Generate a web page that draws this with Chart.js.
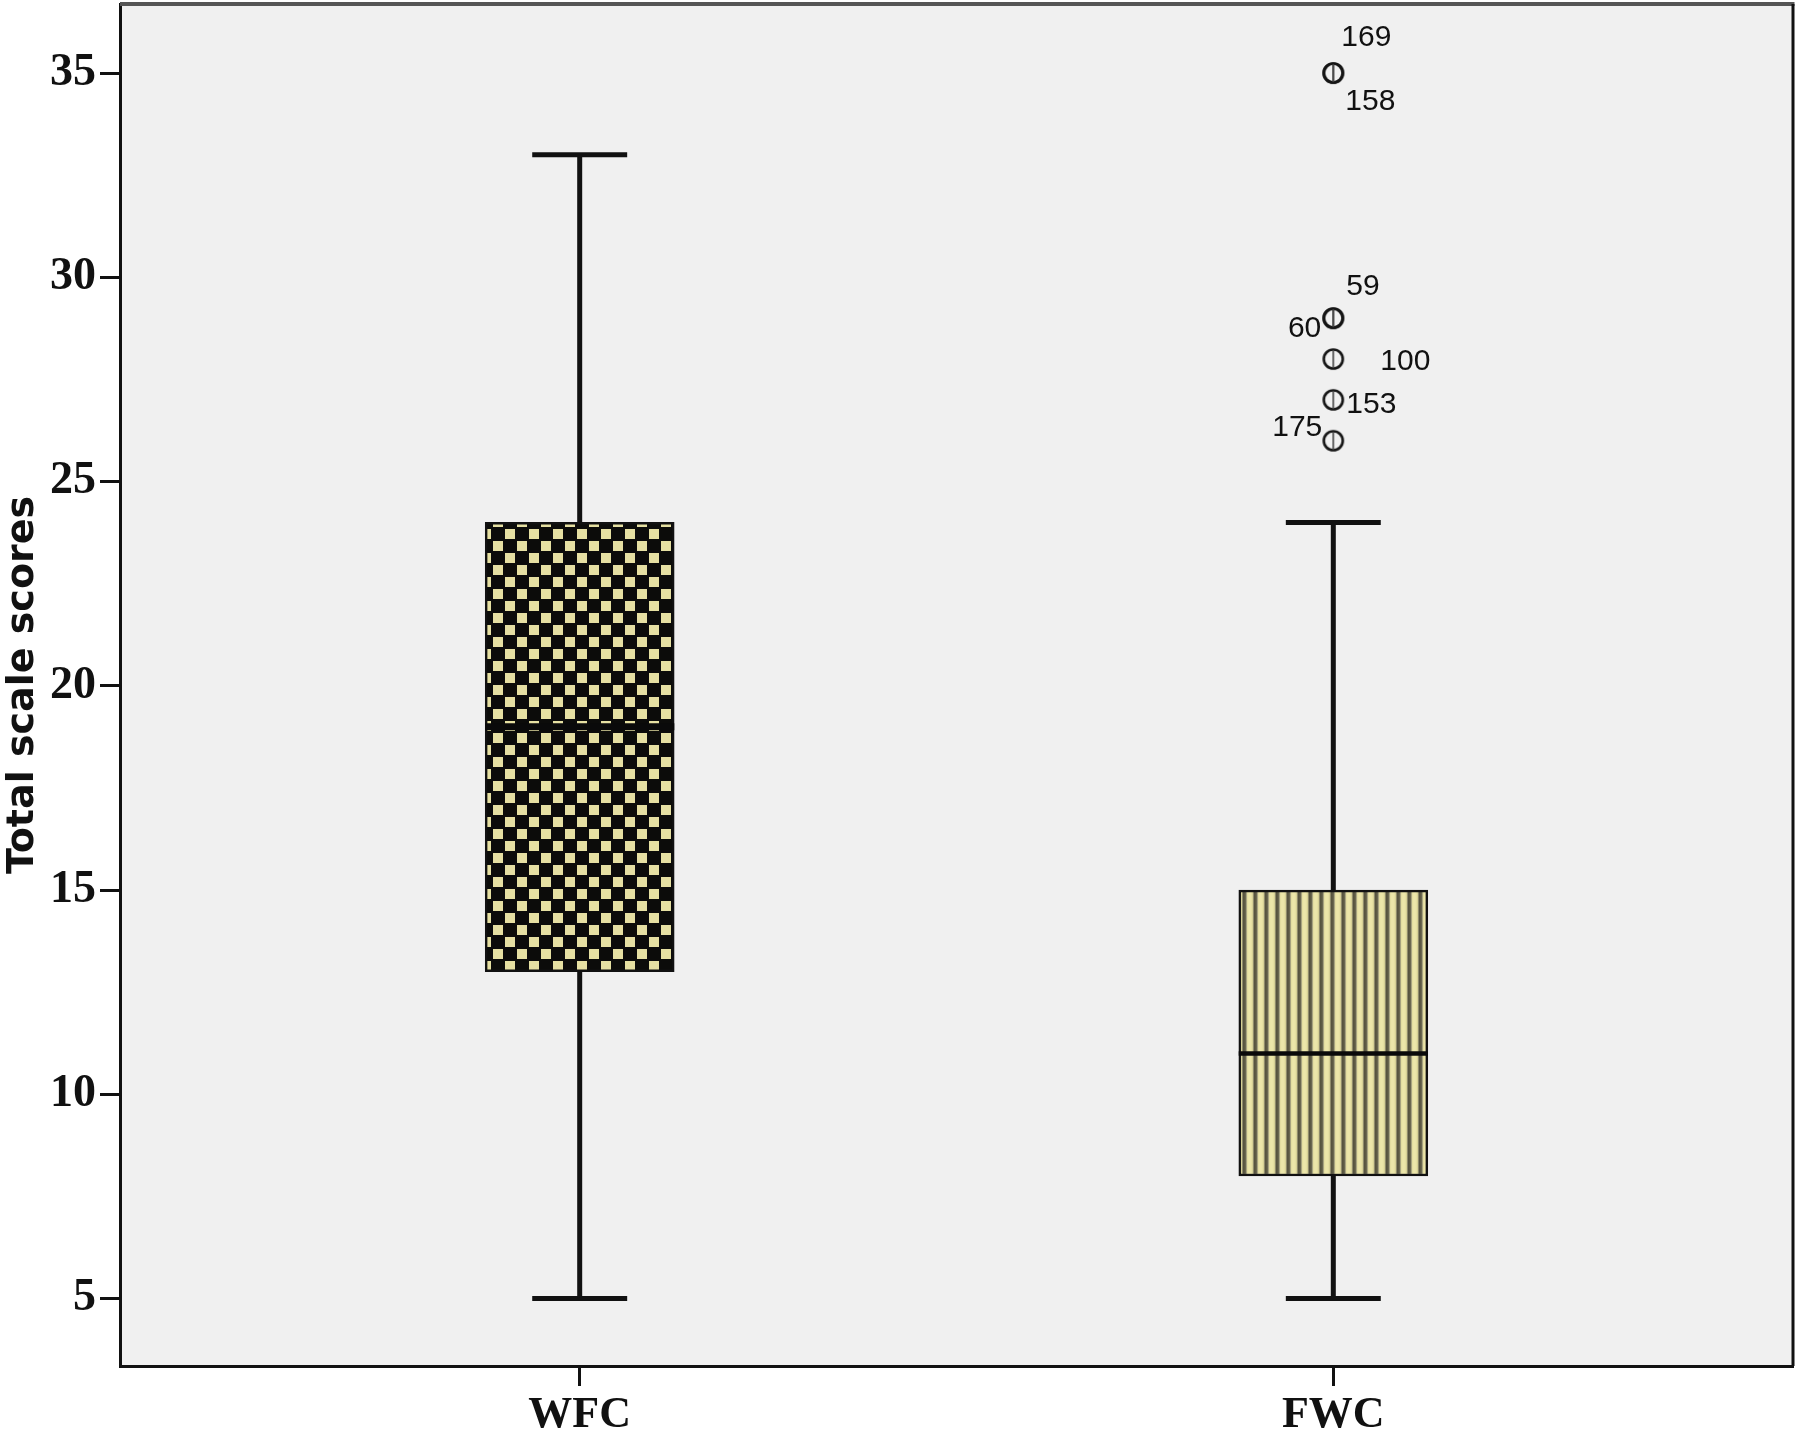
<!DOCTYPE html>
<html><head><meta charset="utf-8">
<script src="https://cdn.jsdelivr.net/npm/chart.js@4"></script>
<style>html,body{margin:0;padding:0;background:#fff}#wrap{width:1800px;height:1435px}</style>
</head><body><div id="wrap"><canvas id="c" width="1800" height="1435"></canvas></div>
<script>
// ---- data ----
const CATEGORIES = ['WFC', 'FWC'];
const MINS = [5, 5];
const Q1S = [13, 8];
const MEDIANS = [19, 11];
const Q3S = [24, 15];
const MAXS = [33, 24];
const OUTLIER_CATEGORY = [1, 1, 1, 1, 1, 1, 1]; // index into CATEGORIES
const OUTLIER_VALUES = [35, 35, 29, 29, 28, 27, 26];
const OUTLIER_IDS = ['169', '158', '59', '60', '100', '153', '175'];
const Y_TICKS = [5, 10, 15, 20, 25, 30, 35];

// ---- layout / style (not data) ----
const LABEL_DX = [8, 12, 13, -12, 47, 13, -11];
const LABEL_DY = [-35, 29, -31, 11, 3, 5, -13];
const LABEL_ALIGN = ['left', 'left', 'left', 'right', 'left', 'left', 'right'];
const BOX_PX = 189;
const BOX_HALF = 0.1255;
const CAP_HALF = 0.063;
const MEDIAN_WIDTHS = [7, 4.5];

function makeChecker() {
  const c = document.createElement('canvas'); c.width = 24; c.height = 24;
  const g = c.getContext('2d');
  g.fillStyle = '#0c0c0a'; g.fillRect(0, 0, 24, 24);
  g.fillStyle = '#e6e0a2';
  g.fillRect(1, 1, 10, 10); g.fillRect(13, 13, 10, 10);
  return g.createPattern(c, 'repeat');
}
function makeStripes() {
  const c = document.createElement('canvas'); c.width = 11; c.height = 4;
  const g = c.getContext('2d');
  const cols = ['#57543f', '#5c5944', '#6a6750', '#a7a37f', '#e3dda0', '#ebe5a8', '#ece6aa', '#ebe5a8', '#e6e0a3', '#d6d095', '#8f8b6b'];
  cols.forEach((col, i) => { g.fillStyle = col; g.fillRect(i, 0, 1, 4); });
  return g.createPattern(c, 'repeat');
}
function makeOutlierMark() {
  const c = document.createElement('canvas'); c.width = 28; c.height = 28;
  const g = c.getContext('2d');
  g.strokeStyle = '#151515'; g.lineWidth = 2.6;
  g.beginPath(); g.arc(14, 14, 9.5, 0, Math.PI * 2); g.stroke();
  g.lineWidth = 1.6; g.strokeStyle = '#444';
  g.beginPath(); g.moveTo(14, 5); g.lineTo(14, 23); g.stroke();
  return c;
}

const checker = makeChecker();
const stripes = makeStripes();
const FILLS = [checker, stripes];

const whiskerData = [];
const capData = [];
const medianData = [];
CATEGORIES.forEach((c, i) => {
  const x = i + 1;
  whiskerData.push({x, y: MAXS[i]}, {x, y: Q3S[i]}, {x, y: null});
  whiskerData.push({x, y: Q1S[i]}, {x, y: MINS[i]}, {x, y: null});
  capData.push({x: x - CAP_HALF, y: MAXS[i]}, {x: x + CAP_HALF, y: MAXS[i]}, {x, y: null});
  capData.push({x: x - CAP_HALF, y: MINS[i]}, {x: x + CAP_HALF, y: MINS[i]}, {x, y: null});
  medianData.push({x: x - BOX_HALF, y: MEDIANS[i]}, {x: x + BOX_HALF, y: MEDIANS[i]}, {x, y: null});
});

const bgPlugin = {
  id: 'bg',
  beforeDraw(chart) {
    const {ctx, chartArea: a} = chart;
    ctx.save();
    ctx.fillStyle = '#ffffff'; ctx.fillRect(0, 0, chart.width, chart.height);
    ctx.fillStyle = '#f0f0f0'; ctx.fillRect(a.left, a.top, a.right - a.left, a.bottom - a.top);
    ctx.restore();
  },
  afterDatasetsDraw(chart) {
    const {ctx, chartArea: a} = chart;
    ctx.save();
    ctx.strokeStyle = '#555'; ctx.lineWidth = 4;
    ctx.beginPath(); ctx.moveTo(a.left, a.top); ctx.lineTo(a.right + 1.5, a.top); ctx.stroke();
    ctx.strokeStyle = '#111'; ctx.lineWidth = 3;
    ctx.beginPath(); ctx.moveTo(a.right, a.top); ctx.lineTo(a.right, a.bottom); ctx.stroke();
    // outlier labels
    const meta = chart.getDatasetMeta(4);
    ctx.font = '30px "Liberation Sans", Arial, sans-serif';
    ctx.fillStyle = '#111';
    ctx.textBaseline = 'middle';
    meta.data.forEach((pt, k) => {
      ctx.textAlign = LABEL_ALIGN[k];
      ctx.fillText(OUTLIER_IDS[k], pt.x + LABEL_DX[k], pt.y + LABEL_DY[k]);
    });
    ctx.restore();
  }
};

new Chart(document.getElementById('c'), {
  type: 'bar',
  data: {
    datasets: [
      {
        type: 'bar',
        data: CATEGORIES.map((c, i) => ({x: i + 1, y: [Q1S[i], Q3S[i]]})),
        backgroundColor: FILLS,
        borderColor: '#111',
        borderWidth: 2.5,
        borderSkipped: false,
        barThickness: BOX_PX,
        order: 5
      },
      {
        type: 'line', data: whiskerData, borderColor: '#111', borderWidth: 5,
        pointRadius: 0, spanGaps: false, borderCapStyle: 'butt', fill: false, order: 4
      },
      {
        type: 'line', data: capData, borderColor: '#111', borderWidth: 5,
        pointRadius: 0, spanGaps: false, borderCapStyle: 'butt', fill: false, order: 3
      },
      {
        type: 'line', data: medianData, borderColor: '#0a0a0a', borderWidth: 5,
        segment: {borderWidth: (ctx) => MEDIAN_WIDTHS[Math.floor(ctx.p0DataIndex / 3)]},
        pointRadius: 0, spanGaps: false, borderCapStyle: 'butt', fill: false, order: 2
      },
      {
        type: 'scatter',
        data: OUTLIER_VALUES.map((v, k) => ({x: OUTLIER_CATEGORY[k] + 1, y: v})),
        pointStyle: makeOutlierMark(),
        pointRadius: 14,
        order: 1
      }
    ]
  },
  options: {
    responsive: false,
    devicePixelRatio: 1,
    animation: false,
    layout: {autoPadding: false, padding: {top: 4, right: 7, left: 0, bottom: 0}},
    plugins: {legend: {display: false}, tooltip: {enabled: false}},
    scales: {
      x: {
        type: 'linear',
        min: 0.39, max: 2.61,
        offset: false,
        grid: {offset: false, drawOnChartArea: false, drawTicks: true, tickLength: 20, tickWidth: 3, tickColor: '#111'},
        border: {display: true, color: '#111', width: 3},
        afterBuildTicks(scale) { scale.ticks = CATEGORIES.map((c, i) => ({value: i + 1})); },
        afterFit(scale) { scale.height = 69; scale.paddingLeft = 0; scale.paddingRight = 0; },
        ticks: {
          autoSkip: false, maxRotation: 0, padding: 3, color: '#111',
          font: {family: '"Liberation Serif", "Times New Roman", serif', weight: 'bold', size: 44},
          callback: (v) => CATEGORIES[Math.round(v) - 1] ?? ''
        }
      },
      y: {
        type: 'linear',
        min: 3.35, max: 36.69,
        grid: {drawOnChartArea: false, drawTicks: true, tickLength: 20, tickWidth: 3, tickColor: '#111'},
        border: {display: true, color: '#111', width: 3},
        afterBuildTicks(scale) { scale.ticks = Y_TICKS.map(v => ({value: v})); },
        afterFit(scale) { scale.width = 120; scale.paddingTop = 0; scale.paddingBottom = 0; },
        ticks: {
          padding: 4, color: '#111',
          font: {family: '"Liberation Serif", "Times New Roman", serif', weight: 'bold', size: 46},
          callback: (v) => String(v)
        },
        title: {
          display: true, text: 'Total scale scores', color: '#111',
          font: {family: '"DejaVu Sans", sans-serif', weight: 'bold', size: 38},
          padding: {top: 0, bottom: 0}
        }
      }
    }
  },
  plugins: [bgPlugin]
});
</script>
</body></html>
